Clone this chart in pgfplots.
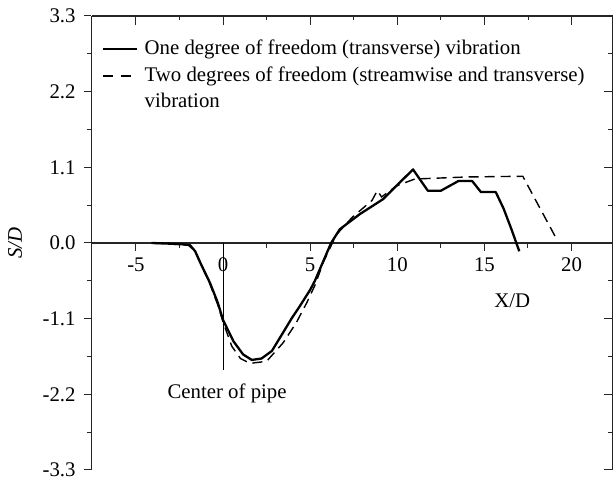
\documentclass[border=0pt]{standalone}
\usepackage{pgfplots}
\pgfplotsset{compat=1.18}
\usepackage{fontspec}
\setmainfont{Liberation Serif}

\pgfplotsset{
  legsolid/.style={legend image code/.code={\draw[##1] (0pt,3pt) -- (17pt,3pt);}},
  legdashed/.style={legend image code/.code={%
    \draw[##1, dash pattern=on 5pt off 4pt] (0pt,3pt) -- (14pt,3pt);
    \path (17pt,3pt);}},
}
\tikzset{ylab/.style={anchor=east, inner sep=0pt, xshift=-7.75pt}}

\pgfplotstableread{
x y
-4.1 0.0
-3.0 -0.01
-2.3 -0.02
-1.9 -0.03
-1.6 -0.12
-1.3 -0.29
-0.75 -0.58
-0.3 -0.87
0.0 -1.12
0.6 -1.43
1.15 -1.62
1.65 -1.70
2.2 -1.68
2.8 -1.57
3.45 -1.30
3.95 -1.09
4.4 -0.92
5.0 -0.68
5.27 -0.55
6.2 0.0
6.7 0.2
7.85 0.42
9.2 0.64
10.9 1.07
11.75 0.76
12.5 0.76
13.5 0.90
14.3 0.90
14.8 0.74
15.65 0.74
16.1 0.50
16.55 0.20
17.0 -0.12
}\onedof

\pgfplotstableread{
x y
-4.1 0.0
-2.0 -0.03
-1.6 -0.12
-1.3 -0.29
-0.75 -0.60
-0.3 -0.90
0.0 -1.15
0.5 -1.50
1.0 -1.68
1.55 -1.75
2.5 -1.72
3.45 -1.45
4.2 -1.16
4.8 -0.87
5.3 -0.60
5.75 -0.28
6.5 0.12
7.4 0.37
8.55 0.62
8.85 0.76
9.1 0.67
9.95 0.83
11.0 0.93
14.0 0.96
17.2 0.97
19.2 0.03
}\twodof

\begin{document}
\fontsize{10.4}{12.7}\selectfont
\begin{tikzpicture}[x=1pt,y=1pt]
\useasboundingbox (-45.75,-7.5) rectangle (260.75,235);
\begin{axis}[
  at={(0,0)}, anchor=south west,
  scale only axis, width=260.5pt, height=227pt,
  xmin=-7.55, xmax=22.35, ymin=-3.3, ymax=3.3,
  axis x line*=middle, axis y line*=left,
  axis line style={line width=0.6pt, black!85},
  tick align=outside,
  tick style={line width=0.5pt, black!85},
  major tick length=3.8pt, minor tick length=2.3pt,
  hide obscured x ticks=false, hide obscured y ticks=false,
  xtick={-5,0,5,10,15,20}, xticklabels={-5,0,5,10,15,20},
  minor x tick num=1,
  ytick={-3.3,-2.2,-1.1,0,1.1,2.2,3.3},
  yticklabels={},
  minor y tick num=1,
  clip=false,
  legend cell align=left,
  legend style={at={(rel axis cs:0,1)}, anchor=north west,
    xshift=4.75pt, yshift=-8.4pt, draw=none, fill=none,
    inner sep=0pt, row sep=-1pt, column sep=1.5pt,
    cells={anchor=base west, inner sep=0pt},
    font=\fontsize{10.4}{12.7}\selectfont},
]
\addplot[black, line width=1.15pt, line join=round, legsolid]
  table[x=x, y=y] {\onedof};
\addlegendentry{\strut One degree of freedom (transverse) vibration}
\addplot[black, line width=0.7pt, dash pattern=on 5pt off 3pt, legdashed]
  table[x=x, y=y] {\twodof};
\addlegendentry{\begin{tabular}[t]{@{}l@{}}Two degrees of freedom (streamwise and transverse)\\vibration\end{tabular}}
\draw[line width=0.5pt] (axis cs:0,0) -- (axis cs:0,-1.84);
\node at (axis cs:0.23,-2.19) {Center of pipe};
\node at (axis cs:16.6,-0.84) {X/D};
\node[rotate=90] at ([xshift=-38.25pt]axis cs:-7.55,0) {\textit{S/D}};
% y tick labels, set apart from the axis as in the original
\node[ylab] at (axis cs:-7.55,3.3) {3.3};
\node[ylab] at (axis cs:-7.55,2.2) {2.2};
\node[ylab] at (axis cs:-7.55,1.1) {1.1};
\node[ylab] at (axis cs:-7.55,0) {0.0};
\node[ylab] at (axis cs:-7.55,-1.1) {-1.1};
\node[ylab] at (axis cs:-7.55,-2.2) {-2.2};
\node[ylab] at (axis cs:-7.55,-3.3) {-3.3};
\end{axis}
\begin{axis}[
  at={(0,0)}, anchor=south west,
  scale only axis, width=260.5pt, height=227pt,
  xmin=-7.55, xmax=22.35, ymin=-3.3, ymax=3.3,
  axis x line*=top, axis y line*=right,
  axis line style={line width=0.6pt, black!85},
  tick align=inside,
  tick style={line width=0.5pt, black!85},
  major tick length=4.5pt, minor tick length=2.2pt,
  xtick={-5,0,5,10,15,20}, xticklabels={},
  minor x tick num=1,
  ytick={-3.3,-2.2,-1.1,0,1.1,2.2,3.3}, yticklabels={},
  minor y tick num=1,
]
\end{axis}
\end{tikzpicture}
\end{document}
